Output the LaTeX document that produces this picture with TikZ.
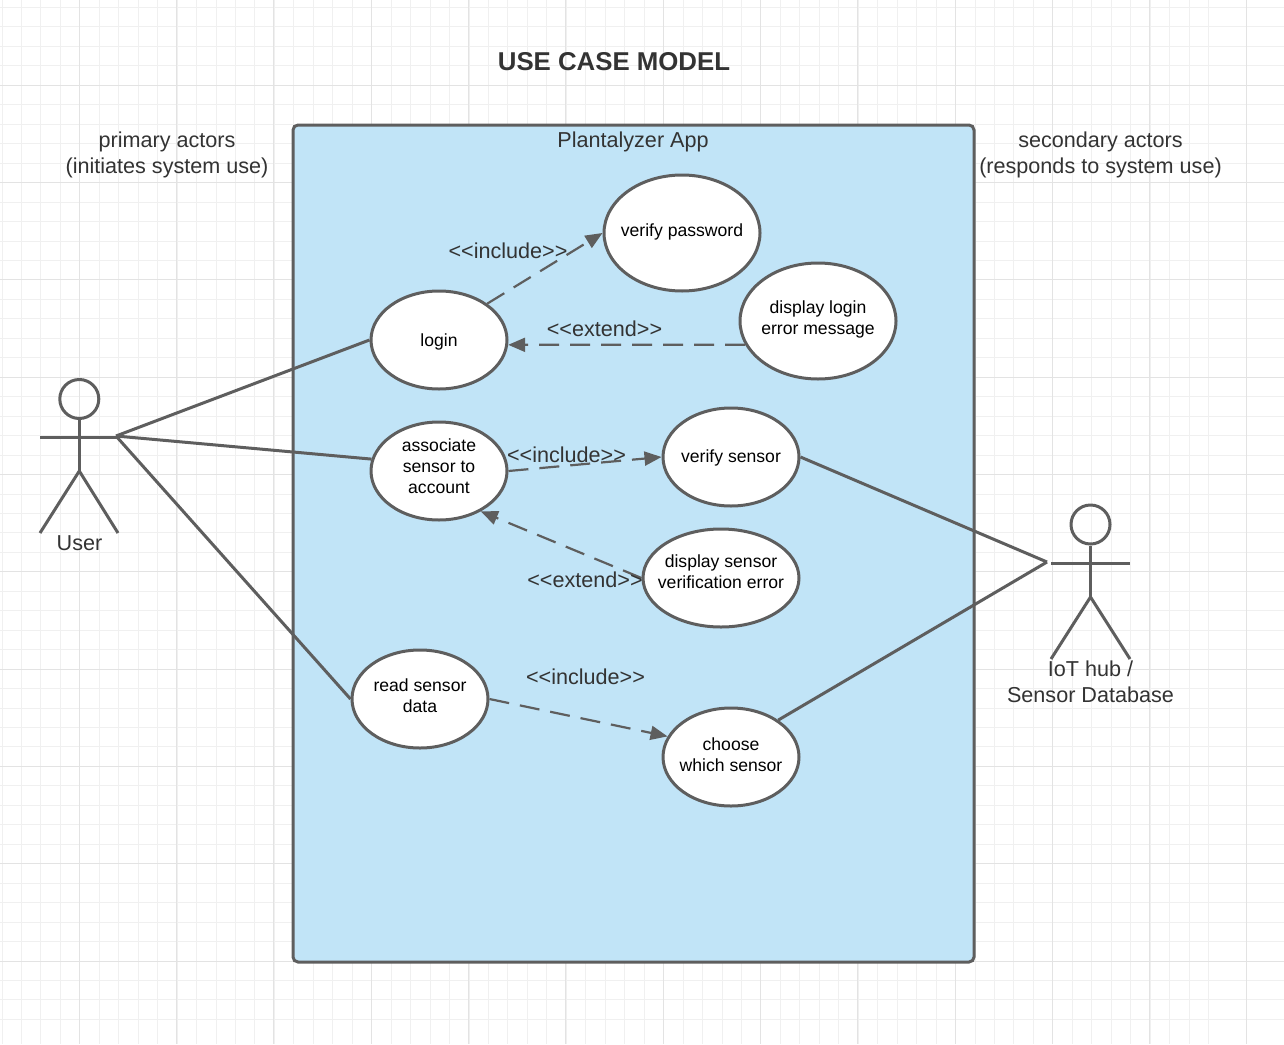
\documentclass[tikz,border=0pt]{standalone}
\usepackage{fontspec}
\setmainfont{Liberation Sans}
\usepackage{tikz}
\usetikzlibrary{shapes.geometric}
\usetikzlibrary{arrows.meta}
\definecolor{boxblue}{HTML}{C1E4F7}
\definecolor{linegray}{HTML}{5E5E5E}
\definecolor{labelgray}{HTML}{333333}
\newcommand{\stereo}[1]{<{}<#1>{}>}
\tikzset{
    usecase/.style={ellipse, draw=linegray, line width=3pt, fill=white, inner sep=-25pt, align=center, font=\fontsize{17.6}{21}\selectfont},
    label/.style={text=labelgray, align=center, inner sep=0pt, font=\fontsize{21.6}{26}\selectfont},
    solidline/.style={draw=linegray, line width=3pt},
    dashline/.style={draw=linegray, line width=2.2pt, dash pattern=on 20pt off 11pt, -{Triangle[length=17pt, width=14pt]}},
}
\begin{document}
\begin{tikzpicture}[x=1pt, y=-1pt]
        \useasboundingbox (0, 0) rectangle (1284, 1044);
        % Grid
        \fill[white] (0, 0) rectangle (1284, 1044);
        \foreach \i in {-4,...,62} {
            \draw[black!6, line width=1pt] ({2.0+19.46*\i}, 0) -- ({2.0+19.46*\i}, 1044);
        }
        \foreach \i in {-4,...,52} {
            \draw[black!6, line width=1pt] (0, {7.5+19.46*\i}) -- (1284, {7.5+19.46*\i});
        }
        \foreach \i in {-1,...,12} {
            \draw[black!11, line width=1pt] ({79.3+97.3*\i}, 0) -- ({79.3+97.3*\i}, 1044);
        }
        \foreach \i in {-1,...,10} {
            \draw[black!11, line width=1pt] (0, {85.3+97.3*\i}) -- (1284, {85.3+97.3*\i});
        }

        % System box
        \node[draw=linegray, line width=3pt, fill=boxblue, rounded corners=5pt, minimum width=681pt, minimum height=837pt, inner sep=0pt] (app) at (633.5, 543.5) {};

        % Labels
        \node[label, font=\fontsize{25.8}{31}\selectfont\bfseries] (title) at (614, 62) {USE CASE MODEL};
        \node[label] (appname) at (633, 142) {Plantalyzer App};
        \node[label] (primary) at (167, 155) {primary actors\\(initiates system use)};
        \node[label] (secondary) at (1100.5, 155) {secondary actors\\(responds to system use)};
        \node[label] (username) at (79.5, 543) {User};
        \node[label] (iotname) at (1090.5, 682) {IoT hub /\\Sensor Database};

        % Use cases
        \node[usecase, minimum width=136pt, minimum height=98pt, text depth=0pt] (login) at (439, 340) {login};
        \node[usecase, minimum width=156pt, minimum height=116pt, text depth=5.9pt] (verifypw) at (682, 233) {verify password};
        \node[usecase, minimum width=156pt, minimum height=116pt, text depth=6.9pt] (loginerror) at (818, 321) {display login\\error message};
        \node[usecase, minimum width=136pt, minimum height=98pt, text depth=9.9pt] (associate) at (439, 471) {associate\\sensor to\\account};
        \node[usecase, minimum width=136pt, minimum height=98pt, text depth=1.9pt] (verifysensor) at (731, 457) {verify sensor};
        \node[usecase, minimum width=156pt, minimum height=98pt, text depth=12.9pt] (sensorerror) at (721, 578) {display sensor\\verification error};
        \node[usecase, minimum width=136pt, minimum height=98pt, text depth=6.9pt] (readdata) at (420, 699) {read sensor\\data};
        \node[usecase, minimum width=136pt, minimum height=98pt, text depth=4.9pt] (choose) at (731, 757) {choose\\which sensor};

        % Actors
        \node[circle, solidline, minimum size=39pt, inner sep=0pt] (userhead) at (79.3, 399) {};
        \coordinate (userhip) at (79.3, 471);
        \coordinate (userarmL) at (40, 437);
        \coordinate (userarmR) at (118, 437);
        \coordinate (userfootL) at (40, 533);
        \coordinate (userfootR) at (118, 533);
        \coordinate (userhand) at (116, 436);
        \draw[solidline] (userhead) -- (userhip);
        \draw[solidline] (userarmL) -- (userarmR);
        \draw[solidline] (userfootL) -- (userhip) -- (userfootR);

        \node[circle, solidline, minimum size=39pt, inner sep=0pt] (iothead) at (1090.5, 524.5) {};
        \coordinate (iothip) at (1090.5, 597);
        \coordinate (iotarmL) at (1051, 563);
        \coordinate (iotarmR) at (1130, 563);
        \coordinate (iotfootL) at (1051, 659);
        \coordinate (iotfootR) at (1130, 659);
        \coordinate (iothand) at (1047, 562);
        \draw[solidline] (iothead) -- (iothip);
        \draw[solidline] (iotarmL) -- (iotarmR);
        \draw[solidline] (iotfootL) -- (iothip) -- (iotfootR);

        % Associations
        \draw[solidline] (userhand) -- (login.west);
        \draw[solidline] (userhand) -- (associate.170);
        \draw[solidline] (userhand) -- (readdata.west);
        \draw[solidline] (verifysensor.east) -- (iothand);
        \draw[solidline] (choose.38) -- (iothand);

        % Dependencies
        \draw[dashline] (login.37) -- (verifypw.west);
        \draw[dashline] (loginerror.198.4) -- (login.-4.2);
        \draw[dashline] (associate.east) -- (verifysensor.west);
        \draw[dashline] (sensorerror.west) -- (associate.-44);
        \draw[dashline] (readdata.east) -- (choose.162);

        % Dependency labels
        \node[label] (incl1) at (508, 251) {\stereo{include}};
        \node[label] (ext1) at (604.5, 329) {\stereo{extend}};
        \node[label] (incl2) at (566.5, 455) {\stereo{include}};
        \node[label] (ext2) at (585, 580) {\stereo{extend}};
        \node[label] (incl3) at (585.5, 677) {\stereo{include}};
    \end{tikzpicture}
\end{document}
